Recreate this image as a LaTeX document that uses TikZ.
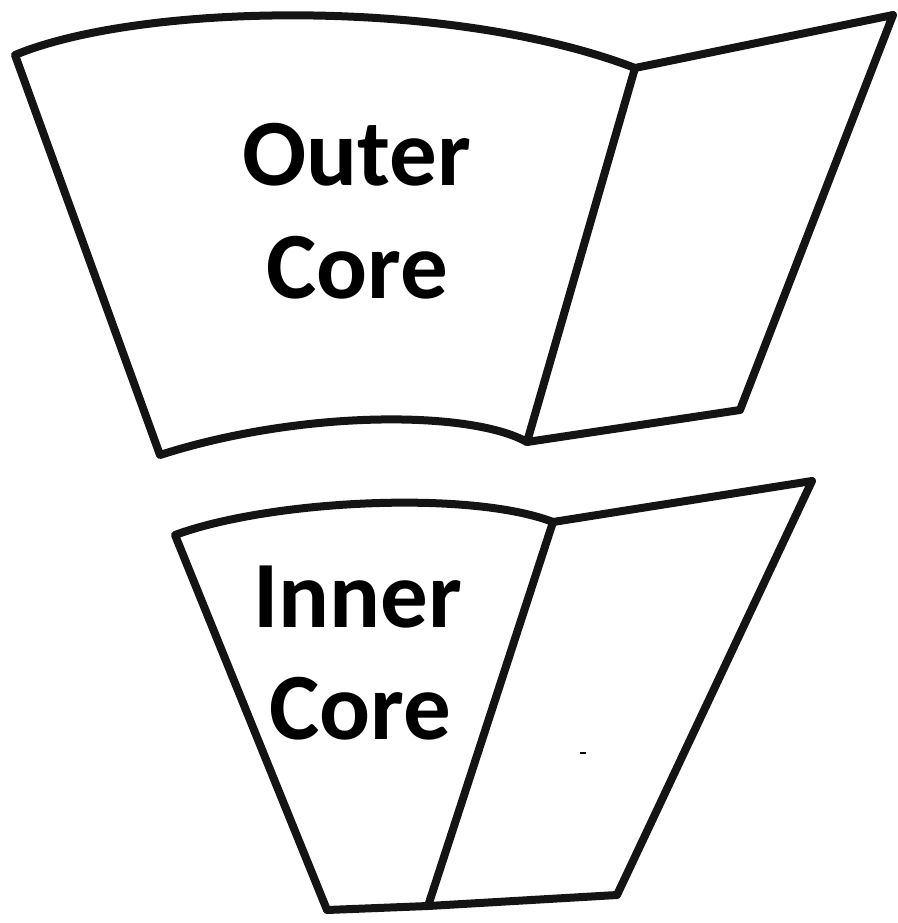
\documentclass[tikz,border=0pt]{standalone}
\usepackage{fontspec}
\setmainfont{Carlito}
\begin{document}
\begin{tikzpicture}[x=1pt,y=-1pt,
  edge/.style={draw=black!92,line width=8pt,line join=round,line cap=round},
  label/.style={font=\fontsize{95}{113}\selectfont\bfseries,inner sep=0pt,anchor=base}]
\useasboundingbox[fill=white] (0,0) rectangle (897,923);
% Outer core
\coordinate (otl) at (15,55);
\coordinate (otm) at (635,68);
\coordinate (otr) at (893,15);
\coordinate (obr) at (740,410);
\coordinate (obm) at (527,442);
\coordinate (obl) at (160,455);
\draw[edge] (otl) .. controls (140,3) and (450,-3) .. (otm) -- (obm)
  .. controls (470,410) and (300,410) .. (obl) -- cycle;
\draw[edge] (otm) -- (otr) -- (obr) -- (obm);
% Inner core
\coordinate (itl) at (175,535);
\coordinate (itm) at (553,522);
\coordinate (itr) at (812,481);
\coordinate (ibr) at (617,895);
\coordinate (ibm) at (428,906);
\coordinate (ibl) at (327,910);
\draw[edge] (itl) .. controls (270,500) and (470,490) .. (itm) -- (ibm) -- (ibl) -- cycle;
\draw[edge] (itm) -- (itr) -- (ibr) -- (ibm);
\draw[black,line width=1.5pt] (580,753) -- (586,753);
% Labels
\node[label] (o1) at (357,185) {Outer};
\node[label] (o2) at (357,298) {Core};
\node[label] (i1) at (358,627) {Inner};
\node[label] (i2) at (360,739) {Core};
\end{tikzpicture}
\end{document}
